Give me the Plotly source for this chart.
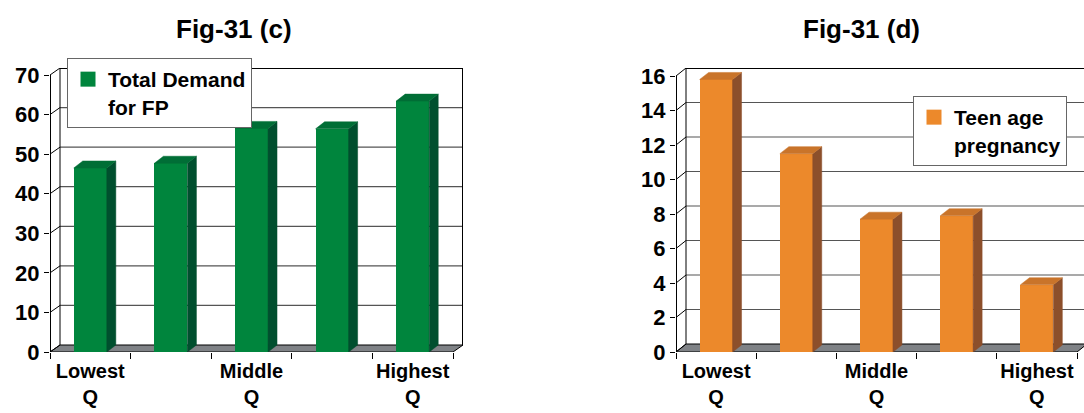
import plotly.graph_objects as go

# data
quintiles = ["Lowest<br>Q", "", "Middle<br>Q", "", "Highest<br>Q"]
demand_fp = [46.5, 47.7, 56.5, 56.4, 63.4]
teen_pregnancy = [15.8, 11.5, 7.7, 7.9, 3.9]
demand_ticks = [0, 10, 20, 30, 40, 50, 60, 70]
teen_ticks = [0, 2, 4, 6, 8, 10, 12, 14, 16]

W, H = 1084, 413
FONT = "Liberation Sans"

panels = [
    dict(name="Total Demand<br>for FP", values=demand_fp, ticks=demand_ticks, ax="", title="Fig-31 (c)",
         front="#00853D", side="#004F2E", top="#006E36",
         left=50, right=453, bottom=352, top_px=75, dx=10, dy=7, dom_right=463,
         title_x=234, legend=(67, 58)),
    dict(name="Teen age<br>pregnancy", values=teen_pregnancy, ticks=teen_ticks, ax="2", title="Fig-31 (d)",
         front="#EC892B", side="#8C4F2B", top="#C9742A",
         left=676, right=1077, bottom=352, top_px=76, dx=10, dy=8, dom_right=1084,
         title_x=861, legend=(913, 96)),
]

fig = go.Figure()
shapes = []
annotations = []
layout = {}

for k, p in enumerate(panels):
    n = len(p["values"])
    xs = list(range(n))
    ymax = p["ticks"][-1]
    ux = (p["right"] - p["left"]) / n
    uy = (p["bottom"] - p["top_px"]) / ymax
    ddx, ddy = p["dx"] / ux, p["dy"] / uy
    xref, yref = "x" + p["ax"], "y" + p["ax"]
    x0, x1 = -0.5, n - 0.5

    # floor
    shapes.append(dict(type="path", xref=xref, yref=yref, layer="below",
                       path=f"M{x0},0 L{x1},0 L{x1 + ddx},{ddy} L{x0 + ddx},{ddy} Z",
                       fillcolor="#7f8286", line=dict(color="black", width=1)))
    # back wall grid
    for t in p["ticks"][1:]:
        top = t == ymax
        shapes.append(dict(type="line", xref=xref, yref=yref, layer="below",
                           x0=x0 + ddx, x1=x1 + ddx, y0=t + ddy, y1=t + ddy,
                           line=dict(color="black" if top else "#555555", width=2 if top else 1.2)))
    # side wall slants
    for t in p["ticks"]:
        shapes.append(dict(type="line", xref=xref, yref=yref, layer="below",
                           x0=x0, x1=x0 + ddx, y0=t, y1=t + ddy,
                           line=dict(color="black", width=1)))
    shapes.append(dict(type="line", xref=xref, yref=yref, layer="below",
                       x0=x0 + ddx, x1=x0 + ddx, y0=ddy, y1=ymax + ddy, line=dict(color="black", width=1)))
    shapes.append(dict(type="line", xref=xref, yref=yref, layer="below",
                       x0=x1 + ddx, x1=x1 + ddx, y0=ddy, y1=ymax + ddy, line=dict(color="black", width=2)))
    shapes.append(dict(type="line", xref=xref, yref=yref, layer="below",
                       x0=x0, x1=x0, y0=0, y1=ymax, line=dict(color="black", width=2)))

    # bars: front face + side + top
    bw = 0.41
    bdx, bdy = 9 / ux, 7 / uy
    fig.add_trace(go.Bar(x=xs, y=p["values"], width=bw, marker=dict(color=p["front"], line_width=0),
                         xaxis=xref, yaxis=yref, showlegend=False, hoverinfo="skip"))
    sx, sy, tx, ty = [], [], [], []
    for i, v in zip(xs, p["values"]):
        r = i + bw / 2
        l = i - bw / 2
        sx += [r, r + bdx, r + bdx, r, r, None]
        sy += [0, bdy, v + bdy, v, 0, None]
        tx += [l, r, r + bdx, l + bdx, l, None]
        ty += [v, v, v + bdy, v + bdy, v, None]
    fig.add_trace(go.Scatter(x=sx, y=sy, mode="lines", fill="toself", fillcolor=p["side"],
                             line=dict(color=p["side"], width=0.5), xaxis=xref, yaxis=yref,
                             showlegend=False, hoverinfo="skip"))
    fig.add_trace(go.Scatter(x=tx, y=ty, mode="lines", fill="toself", fillcolor=p["top"],
                             line=dict(color=p["top"], width=0.5), xaxis=xref, yaxis=yref,
                             showlegend=False, hoverinfo="skip"))
    # legend entry
    leg = "legend" + p["ax"]
    fig.add_trace(go.Scatter(x=[None], y=[None], mode="markers", name=p["name"],
                             marker=dict(symbol="square", size=15, color=p["front"]),
                             xaxis=xref, yaxis=yref, legend=leg))
    layout[leg] = dict(x=p["legend"][0] / W, y=1 - p["legend"][1] / H, xanchor="left", yanchor="top",
                       bgcolor="white", bordercolor="#666666", borderwidth=1, valign="top",
                       itemwidth=30, font=dict(family=FONT, size=21, color="black", weight="bold"))

    layout["xaxis" + p["ax"]] = dict(
        domain=[p["left"] / W, p["dom_right"] / W], range=[x0, x0 + (p["dom_right"] - p["left"]) / ux],
        anchor=yref, tickmode="array", tickvals=xs, ticktext=quintiles, ticks="", ticklabelstandoff=5,
        minor=dict(tickmode="array", tickvals=[i - 0.5 for i in range(n + 1)], ticks="outside",
                   ticklen=6, tickcolor="black", tickwidth=1),
        showgrid=False, zeroline=False, showline=False, automargin=False, fixedrange=True,
        tickfont=dict(family=FONT, size=20, color="black", weight="bold"))
    layout["yaxis" + p["ax"]] = dict(
        domain=[1 - p["bottom"] / H, 1 - (p["top_px"] - p["dy"]) / H], range=[0, ymax + ddy],
        anchor=xref, tickmode="array", tickvals=p["ticks"], ticks="outside", ticklen=5,
        tickcolor="black", tickwidth=1, showgrid=False, zeroline=False, showline=False,
        automargin=False, fixedrange=True,
        tickfont=dict(family=FONT, size=22, color="black", weight="bold"))

    annotations.append(dict(text=p["title"], xref="paper", yref="paper", x=p["title_x"] / W, y=1 - 29 / H,
                            xanchor="center", yanchor="middle", showarrow=False,
                            font=dict(family=FONT, size=26, color="black", weight="bold")))

fig.update_layout(width=W, height=H, margin=dict(l=0, r=0, t=0, b=0),
                  paper_bgcolor="white", plot_bgcolor="white", bargap=0,
                  shapes=shapes, annotations=annotations, **layout)

# page body has a default 8px margin; drop it so the figure sits at the window origin
fig.write_html("out.html", config={"displayModeBar": False},
               post_script="document.body.style.margin='0';")
